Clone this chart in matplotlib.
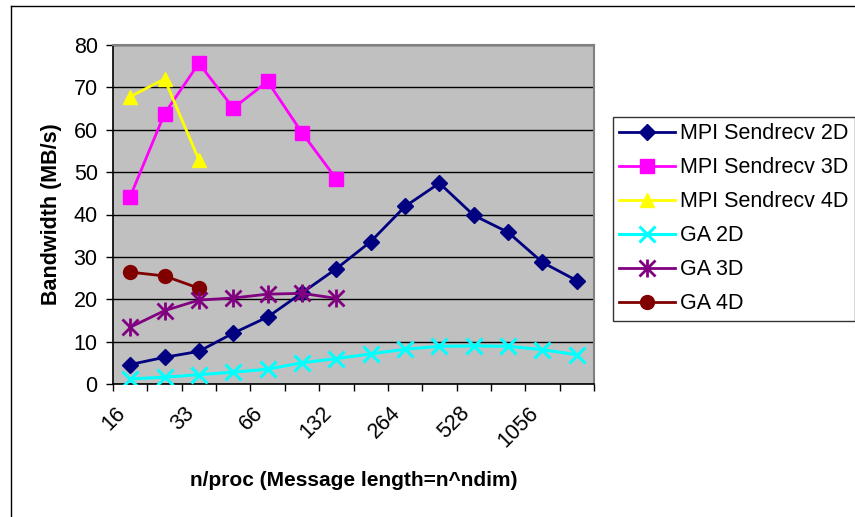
import matplotlib
matplotlib.use('Agg')
import matplotlib.pyplot as plt
from matplotlib.lines import Line2D
from matplotlib.transforms import ScaledTranslation

plt.rcParams['font.family'] = ['Liberation Sans', 'DejaVu Sans']

# message sizes (only every other category gets a label)
tick_labels = ['16', '', '33', '', '66', '', '132', '', '264', '', '528', '', '1056', '']

mpi_2d = [4.6, 6.3, 7.7, 12.0, 15.8, 21.5, 27.2, 33.6, 41.9, 47.4, 39.8, 35.8, 28.7, 24.4]
mpi_3d = [44.2, 63.8, 75.7, 65.1, 71.4, 59.3, 48.4]
mpi_4d = [67.8, 72.0, 52.9]
ga_2d = [1.2, 1.6, 2.2, 2.8, 3.5, 5.0, 6.0, 7.1, 8.2, 8.9, 9.0, 8.9, 8.1, 6.9]
ga_3d = [13.4, 17.3, 19.8, 20.3, 21.2, 21.4, 20.2]
ga_4d = [26.4, 25.5, 22.6]

series = [
    ('MPI Sendrecv 2D', mpi_2d, '#000080', 'D', 8),
    ('MPI Sendrecv 3D', mpi_3d, '#FF00FF', 's', 10),
    ('MPI Sendrecv 4D', mpi_4d, '#FFFF00', '^', 10),
    ('GA 2D', ga_2d, '#00FFFF', 'x', 11),
    ('GA 3D', ga_3d, '#800080', '*', 11),
    ('GA 4D', ga_4d, '#800000', 'o', 10),
]

fig = plt.figure(figsize=(8.55, 5.17), dpi=100)
ax = fig.add_axes([113 / 855, 1 - 384 / 517, (594 - 113) / 855, (384 - 45) / 517])
ax.set_facecolor('#C0C0C0')

for name, vals, col, mk, ms in series:
    xs = list(range(len(vals)))
    if mk == '*':
        # asterisk built from an x and a vertical bar
        ax.plot(xs, vals, color=col, lw=2, label=name, zorder=3)
        ax.plot(xs, vals, ls='none', marker='x', ms=ms, mew=2, color=col, zorder=4)
        ax.plot(xs, vals, ls='none', marker='|', ms=ms + 2, mew=2, color=col, zorder=4)
    elif mk == 'x':
        ax.plot(xs, vals, color=col, lw=2.2, marker='x', ms=ms, mew=2.2, label=name, zorder=3)
    else:
        ax.plot(xs, vals, color=col, lw=2, marker=mk, ms=ms, mec=col, mfc=col, label=name, zorder=3)

ax.set_xlim(-0.5, len(tick_labels) - 0.5)
ax.set_ylim(0, 80)
ax.set_yticks(range(0, 81, 10))
ax.yaxis.grid(True, color='black', lw=1)
ax.set_axisbelow(True)
ax.tick_params(axis='y', labelsize=15.5, length=5, width=1, direction='out', pad=6)

# ticks between categories, labels on the categories
ax.set_xticks([i - 0.5 for i in range(len(tick_labels) + 1)], minor=True)
ax.set_xticks(range(len(tick_labels)))
ax.set_xticklabels(tick_labels, rotation=45, ha='right', rotation_mode='anchor', fontsize=15.5)
ax.tick_params(axis='x', which='major', length=0, pad=14)
ax.tick_params(axis='x', which='minor', length=5, width=1, direction='out')
shift = ScaledTranslation(-15 / 100, 1 / 100, fig.dpi_scale_trans)
for lbl in ax.get_xticklabels():
    lbl.set_transform(lbl.get_transform() + shift)

for side in ['left', 'bottom']:
    ax.spines[side].set_color('black')
    ax.spines[side].set_linewidth(1.2)
for side in ['top', 'right']:
    ax.spines[side].set_color('#808080')
    ax.spines[side].set_linewidth(1.5)

ax.set_ylabel('Bandwidth (MB/s)', fontsize=15.5, fontweight='bold', labelpad=8)
ax.set_xlabel('n/proc (Message length=n^ndim)', fontsize=15, fontweight='bold', labelpad=14)

# legend handles
handles = []
for name, vals, col, mk, ms in series:
    if mk == '*':
        handles.append((Line2D([], [], color=col, lw=2),
                        Line2D([], [], ls='none', marker='x', ms=ms, mew=2, color=col),
                        Line2D([], [], ls='none', marker='|', ms=ms + 2, mew=2, color=col)))
    elif mk == 'x':
        handles.append(Line2D([], [], color=col, lw=2.2, marker='x', ms=ms, mew=2.2))
    else:
        handles.append(Line2D([], [], color=col, lw=2, marker=mk, ms=ms, mec=col, mfc=col))
leg = fig.legend(handles, [s[0] for s in series], loc='upper left',
                 bbox_to_anchor=(613 / 855, 1 - 117 / 517), fontsize=15.5,
                 frameon=True, fancybox=False, edgecolor='black', borderpad=0.3,
                 handlelength=2.6, handletextpad=0.2, labelspacing=0.6, borderaxespad=0)
leg.get_frame().set_linewidth(1)

# outer chart border
fig.add_artist(Line2D([11 / 855, 11 / 855], [0, 1 - 6 / 517], color='black', lw=1))
fig.add_artist(Line2D([11 / 855, 1], [1 - 6 / 517, 1 - 6 / 517], color='black', lw=1))

fig.savefig('out.png', dpi=100)
